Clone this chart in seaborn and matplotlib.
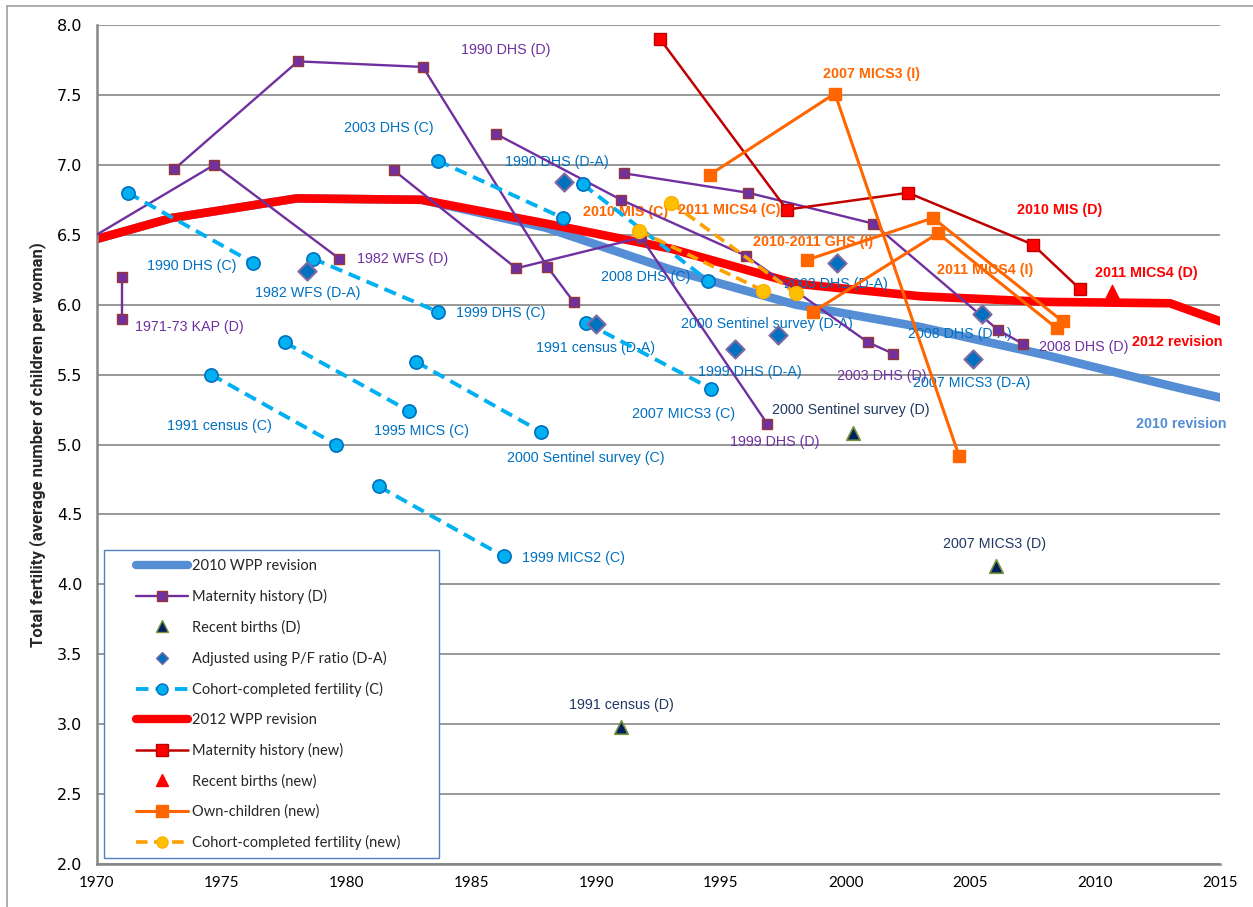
import seaborn as sns
import matplotlib.pyplot as plt
import pandas as pd
from matplotlib.lines import Line2D
from matplotlib.patches import Rectangle

sns.set_style('white')
plt.rcParams['font.family'] = ['Liberation Sans', 'DejaVu Sans']

# WPP estimates (period points, ends run past the axis and get clipped)
wpp_year = [1968, 1973, 1978, 1983, 1988, 1993, 1998, 2003, 2008, 2013, 2018]
wpp2010_tfr = [6.37, 6.62, 6.76, 6.75, 6.55, 6.25, 6.00, 5.84, 5.64, 5.42, 5.21]
wpp2012_tfr = [6.37, 6.62, 6.76, 6.75, 6.58, 6.40, 6.15, 6.06, 6.02, 6.01, 5.69]

# maternity history, direct (D)
matd_survey = ['1971-73 KAP'] * 2 + ['1982 WFS'] * 3 + ['1990 DHS'] * 5 + ['1999 DHS'] * 4 + ['2003 DHS'] * 5 + ['2008 DHS'] * 5
matd_year = [1971.0, 1971.0,
             1969.7, 1974.7, 1979.7,
             1973.1, 1978.05, 1983.06, 1988.05, 1989.1,
             1981.9, 1986.8, 1991.8, 1996.85,
             1986.0, 1991.0, 1996.0, 2000.9, 2001.9,
             1991.1, 1996.1, 2001.1, 2006.1, 2007.1]
matd_tfr = [6.20, 5.90,
            6.47, 7.00, 6.33,
            6.97, 7.74, 7.70, 6.27, 6.02,
            6.96, 6.26, 6.48, 5.15,
            7.22, 6.75, 6.35, 5.73, 5.65,
            6.94, 6.80, 6.58, 5.82, 5.72]

# recent births (D)
rb_year = [1991.0, 2000.28, 2006.03]
rb_tfr = [2.98, 5.08, 4.13]

# adjusted using P/F ratio (D-A)
adj_year = [1978.4, 1988.7, 1990.0, 1995.55, 1997.3, 1999.65, 2005.45, 2005.1]
adj_tfr = [6.24, 6.88, 5.86, 5.68, 5.78, 6.30, 5.93, 5.61]

# cohort-completed fertility (C)
coh_survey = ['1990 DHS'] * 2 + ['1999 DHS'] * 2 + ['2003 DHS'] * 2 + ['2008 DHS'] * 2 + ['2007 MICS3'] * 2 + \
             ['1991 census'] * 2 + ['1995 MICS'] * 2 + ['2000 Sentinel'] * 2 + ['1999 MICS2'] * 2
coh_year = [1971.24, 1976.25, 1978.65, 1983.65, 1983.65, 1988.67, 1989.47, 1994.5, 1989.6, 1994.6,
            1974.57, 1979.58, 1977.53, 1982.5, 1982.8, 1987.8, 1981.3, 1986.3]
coh_tfr = [6.80, 6.30, 6.33, 5.95, 7.03, 6.62, 6.86, 6.17, 5.87, 5.40,
           5.50, 5.00, 5.73, 5.24, 5.59, 5.09, 4.70, 4.20]

# new estimates
matn_year = [1992.56, 1997.64, 2002.5, 2007.5, 2009.4]
matn_tfr = [7.90, 6.68, 6.80, 6.43, 6.11]
rbn_year = [2010.67]
rbn_tfr = [6.09]
own_survey = ['2007 MICS3'] * 3 + ['2010-2011 GHS'] * 3 + ['2011 MICS4'] * 3
own_year = [1994.56, 1999.57, 2004.54, 1998.45, 2003.5, 2008.7, 1998.7, 2003.7, 2008.47]
own_tfr = [6.93, 7.51, 4.92, 6.32, 6.62, 5.88, 5.95, 6.51, 5.83]
cohn_survey = ['2010 MIS'] * 2 + ['2011 MICS4'] * 2
cohn_year = [1991.7, 1996.7, 1993.0, 1998.0]
cohn_tfr = [6.53, 6.10, 6.73, 6.08]

# point labels (text, x, y, group)
labels = [
    ('1990 DHS (D)', 1984.58, 7.82, 'D'), ('1982 WFS (D)', 1980.42, 6.33, 'D'),
    ('1971-73 KAP (D)', 1971.52, 5.84, 'D'), ('1999 DHS (D)', 1995.36, 5.02, 'D'),
    ('2003 DHS (D)', 1999.65, 5.49, 'D'), ('2008 DHS (D)', 2007.74, 5.70, 'D'),
    ('2003 DHS (C)', 1979.9, 7.26, 'C'), ('1990 DHS (D-A)', 1986.35, 7.02, 'C'),
    ('1990 DHS (C)', 1972.0, 6.28, 'C'), ('1982 WFS (D-A)', 1976.33, 6.08, 'C'),
    ('1999 DHS (C)', 1984.38, 5.94, 'C'), ('1991 census (D-A)', 1987.59, 5.69, 'C'),
    ('2008 DHS (C)', 1990.2, 6.20, 'C'), ('2000 Sentinel survey (D-A)', 1993.4, 5.86, 'C'),
    ('1999 DHS (D-A)', 1994.08, 5.52, 'C'), ('2003 DHS (D-A)', 1997.52, 6.15, 'C'),
    ('2008 DHS (D-A)', 2002.5, 5.79, 'C'), ('2007 MICS3 (D-A)', 2002.7, 5.44, 'C'),
    ('2007 MICS3 (C)', 1991.43, 5.22, 'C'), ('1991 census (C)', 1972.8, 5.13, 'C'),
    ('1995 MICS (C)', 1981.1, 5.10, 'C'), ('2000 Sentinel survey (C)', 1986.43, 4.90, 'C'),
    ('1999 MICS2 (C)', 1987.03, 4.19, 'C'),
    ('2000 Sentinel survey (D)', 1997.04, 5.25, 'RB'), ('2007 MICS3 (D)', 2003.9, 4.29, 'RB'),
    ('1991 census (D)', 1988.9, 3.14, 'RB'),
    ('2007 MICS3 (I)', 1999.1, 7.65, 'I'), ('2010 MIS (C)', 1989.47, 6.66, 'I'),
    ('2011 MICS4 (C)', 1993.28, 6.68, 'I'), ('2010-2011 GHS (I)', 1996.3, 6.45, 'I'),
    ('2011 MICS4 (I)', 2003.65, 6.25, 'I'),
    ('2010 MIS (D)', 2006.86, 6.68, 'N'), ('2011 MICS4 (D)', 2009.98, 6.23, 'N'),
    ('2012 revision', 2011.47, 5.73, 'N'), ('2010 revision', 2011.63, 5.15, 'W'),
]
label_style = {'D': ('#7030A0', 'normal'), 'C': ('#0070C0', 'normal'), 'RB': ('#1F3864', 'normal'),
               'I': ('#FF6600', 'bold'), 'N': ('#FF0000', 'bold'), 'W': ('#558ED5', 'bold')}

fig = plt.figure(figsize=(12.53, 9.07), dpi=100)
ax = fig.add_axes([97 / 1253, 43 / 907, 1123 / 1253, 839 / 907])

# WPP lines
sns.lineplot(x=wpp_year, y=wpp2010_tfr, color='#558ED5', lw=6.2, ax=ax, zorder=2)
sns.lineplot(x=wpp_year, y=wpp2012_tfr, color='#FF0000', lw=6.2, ax=ax, zorder=2.2)

matd = pd.DataFrame({'survey': matd_survey, 'year': matd_year, 'tfr': matd_tfr})
sns.lineplot(data=matd, x='year', y='tfr', units='survey', estimator=None, sort=False, ax=ax,
             color='#7030A0', lw=1.7, marker='s', ms=7.8, mfc='#7030A0', mec='#953735', mew=1,
             legend=False, zorder=3)

coh = pd.DataFrame({'survey': coh_survey, 'year': coh_year, 'tfr': coh_tfr})
sns.lineplot(data=coh, x='year', y='tfr', units='survey', estimator=None, sort=False, ax=ax,
             color='#00B0F0', lw=2.8, linestyle=(0, (3.2, 1.8)), marker='o', ms=9.5,
             mfc='#00B0F0', mec='#0070C0', mew=1.2, legend=False, zorder=3)

sns.scatterplot(x=adj_year, y=adj_tfr, marker='D', s=85, color='#0070C0', edgecolor='#7F6A9F',
                linewidth=1.5, ax=ax, zorder=3.5)
sns.scatterplot(x=rb_year, y=rb_tfr, marker='^', s=95, color='#002060', edgecolor='#77933C',
                linewidth=1.2, ax=ax, zorder=3.5)

sns.lineplot(x=matn_year, y=matn_tfr, sort=False, estimator=None, ax=ax, color='#C00000', lw=1.8,
             marker='s', ms=8.5, mfc='#FF0000', mec='#C00000', mew=1, zorder=3.6)
sns.scatterplot(x=rbn_year, y=rbn_tfr, marker='^', s=110, color='#FF0000', edgecolor='#FF0000',
                ax=ax, zorder=3.6)

own = pd.DataFrame({'survey': own_survey, 'year': own_year, 'tfr': own_tfr})
sns.lineplot(data=own, x='year', y='tfr', units='survey', estimator=None, sort=False, ax=ax,
             color='#FF6600', lw=2.2, marker='s', ms=9, mfc='#FF6600', mec='#FF6600', mew=1,
             legend=False, zorder=3.7)

cohn = pd.DataFrame({'survey': cohn_survey, 'year': cohn_year, 'tfr': cohn_tfr})
sns.lineplot(data=cohn, x='year', y='tfr', units='survey', estimator=None, sort=False, ax=ax,
             color='#FFA000', lw=2.6, linestyle=(0, (3.2, 1.8)), marker='o', ms=10,
             mfc='#FFC000', mec='#FFB000', mew=1, legend=False, zorder=3.8)

for txt, x, y, grp in labels:
    col, wt = label_style[grp]
    ax.text(x, y, txt, color=col, fontweight=wt, fontsize=10.3, ha='left', va='center',
            zorder=2.5, clip_on=False)

ax.set_xlim(1970, 2015)
ax.set_ylim(2, 8)
ax.set_xticks(range(1970, 2016, 5))
ax.set_yticks([2 + 0.5 * i for i in range(13)])
ax.set_yticklabels([f'{2 + 0.5 * i:.1f}' for i in range(13)], fontfamily='DejaVu Sans', fontsize=11.5)
ax.set_xticklabels([str(v) for v in range(1970, 2016, 5)], fontfamily='Lato', fontsize=11)
ax.yaxis.grid(True, color='#868686', lw=1.2)
ax.xaxis.grid(False)
for s in ['top', 'right']:
    ax.spines[s].set_visible(False)
for s in ['left', 'bottom']:
    ax.spines[s].set_color('#868686')
    ax.spines[s].set_linewidth(1.8)
ax.tick_params(axis='both', direction='out', length=4.5, width=1.2, color='#868686', labelcolor='black')
ax.tick_params(axis='y', pad=6)
ax.tick_params(axis='x', pad=4)
ax.set_xlabel('')
ax.set_ylabel('Total fertility (average number of children per woman)', fontsize=12,
              fontweight='bold', family=['Liberation Sans Narrow', 'Roboto'])
ax.yaxis.set_label_coords(-0.045, 0.5)

# legend box
ax.add_patch(Rectangle((0.0062, 0.0072), 0.2983, 0.3671, transform=ax.transAxes, facecolor='white',
                       edgecolor='#4F81BD', lw=1, zorder=5, clip_on=False))
dash = (0, (3.2, 1.8))
handles = [
    Line2D([], [], color='#558ED5', lw=6, solid_capstyle='round', label='2010 WPP revision'),
    Line2D([], [], color='#7030A0', lw=1.7, marker='s', ms=7.5, mfc='#7030A0', mec='#953735', label='Maternity history (D)'),
    Line2D([], [], ls='none', marker='^', ms=8, mfc='#002060', mec='#77933C', label='Recent births (D)'),
    Line2D([], [], ls='none', marker='D', ms=6.5, mfc='#0070C0', mec='#7F6A9F', label='Adjusted using P/F ratio (D-A)'),
    Line2D([], [], color='#00B0F0', lw=2.8, ls=dash, marker='o', ms=8, mfc='#00B0F0', mec='#0070C0', label='Cohort-completed fertility (C)'),
    Line2D([], [], color='#FF0000', lw=6, solid_capstyle='round', label='2012 WPP revision'),
    Line2D([], [], color='#C00000', lw=1.8, marker='s', ms=8, mfc='#FF0000', mec='#C00000', label='Maternity history (new)'),
    Line2D([], [], ls='none', marker='^', ms=8, color='#FF0000', label='Recent births (new)'),
    Line2D([], [], color='#FF6600', lw=2.2, marker='s', ms=8, mfc='#FF6600', mec='#FF6600', label='Own-children (new)'),
    Line2D([], [], color='#FFA000', lw=2.6, ls=dash, marker='o', ms=8, mfc='#FFC000', mec='#FFB000', label='Cohort-completed fertility (new)'),
]
leg = ax.legend(handles=handles, loc='upper left', bbox_to_anchor=(0.0347, 0.3635), frameon=False,
                borderpad=0, borderaxespad=0, handlelength=3.6, handletextpad=0.25,
                labelspacing=1.1, prop={'family': 'Lato', 'size': 10.5})
leg.set_zorder(6)

# chart area border
fig.add_artist(Line2D([7 / 1253, 1], [1 - 6 / 907, 1 - 6 / 907], color='#A0A0A0', lw=1.2))
fig.add_artist(Line2D([7 / 1253, 7 / 1253], [0, 1 - 6 / 907], color='#A0A0A0', lw=1.2))

fig.savefig('out.png', dpi=100)
